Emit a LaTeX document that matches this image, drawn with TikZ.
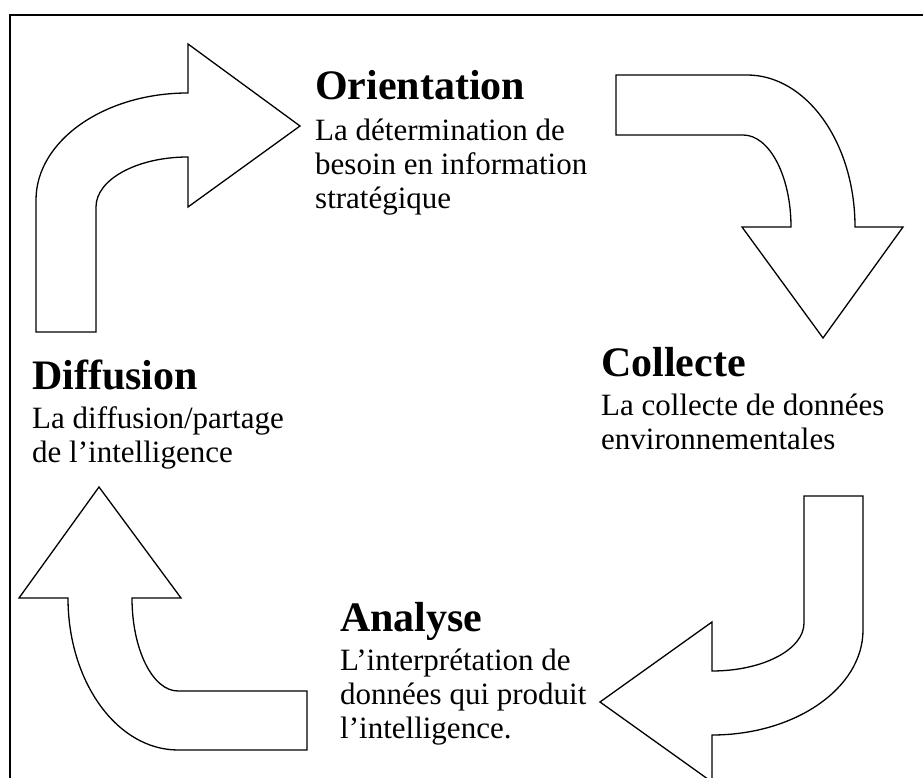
\documentclass[tikz,border=0pt]{standalone}
\usepackage{fontspec}
\setmainfont{Liberation Serif}
\usepackage{tikz}

\begin{document}
\begin{tikzpicture}[x=1pt,y=1pt]

    \useasboundingbox (0,0) rectangle (923,778);
    \clip (0,0) rectangle (923,778);

    % frame
    \draw[line width=2pt] (10,-20) -- (10,763) -- (940,763);

    \begin{scope}[every path/.style={draw,line width=1.3pt,fill=white,line join=miter}]
        % orientation arrow
        \path (36,446) -- (36,578) arc[start angle=180, end angle=90, x radius=152, y radius=107]
            -- (188,734) -- (300,652) -- (188,571) -- (188,621)
            arc[start angle=90, end angle=180, x radius=92, y radius=50] -- (96,446) -- cycle;

        % collecte arrow
        \path (616,703) -- (747,703) arc[start angle=90, end angle=0, x radius=108, y radius=152]
            -- (903,551) -- (823,440) -- (742,551) -- (791,551)
            arc[start angle=0, end angle=90, x radius=48, y radius=92] -- (616,643) -- cycle;

        % analyse arrow
        \path (804,282) -- (863,282) -- (863,148) arc[start angle=0, end angle=-90, x radius=151, y radius=105]
            -- (712,-4) -- (600,76) -- (712,156) -- (712,107)
            arc[start angle=-90, end angle=0, x radius=92, y radius=48] -- cycle;

        % diffusion arrow
        \path (307,87) -- (307,28) -- (178,28) arc[start angle=270, end angle=180, x radius=110, y radius=152]
            -- (19,180) -- (99,291) -- (181,180) -- (132,180)
            arc[start angle=180, end angle=270, x radius=46, y radius=93] -- cycle;
    \end{scope}

    \begin{scope}[every node/.style={inner sep=0pt,align=left}]
        \node[anchor=base west,font=\fontsize{42}{46}\bfseries\selectfont] (orient) at (315,678) {Orientation};
        \node[anchor=north west,font=\fontsize{31}{34}\selectfont] (orienttxt) at (315,659) {La détermination de\\besoin en information\\stratégique};

        \node[anchor=base west,font=\fontsize{42}{46}\bfseries\selectfont] (collect) at (601,401) {Collecte};
        \node[anchor=north west,font=\fontsize{31}{34}\selectfont] (collecttxt) at (601,384) {La collecte de données\\environnementales};

        \node[anchor=base west,font=\fontsize{42}{46}\bfseries\selectfont] (analyse) at (340,146) {Analyse};
        \node[anchor=north west,font=\fontsize{31}{34}\selectfont] (analysetxt) at (340,129) {L’interprétation de\\données qui produit\\l’intelligence.};

        \node[anchor=base west,font=\fontsize{42}{46}\bfseries\selectfont] (diffus) at (32,388) {Diffusion};
        \node[anchor=north west,font=\fontsize{31}{34}\selectfont] (diffustxt) at (32,372) {La diffusion/partage\\de l’intelligence};
    \end{scope}

\end{tikzpicture}
\end{document}
